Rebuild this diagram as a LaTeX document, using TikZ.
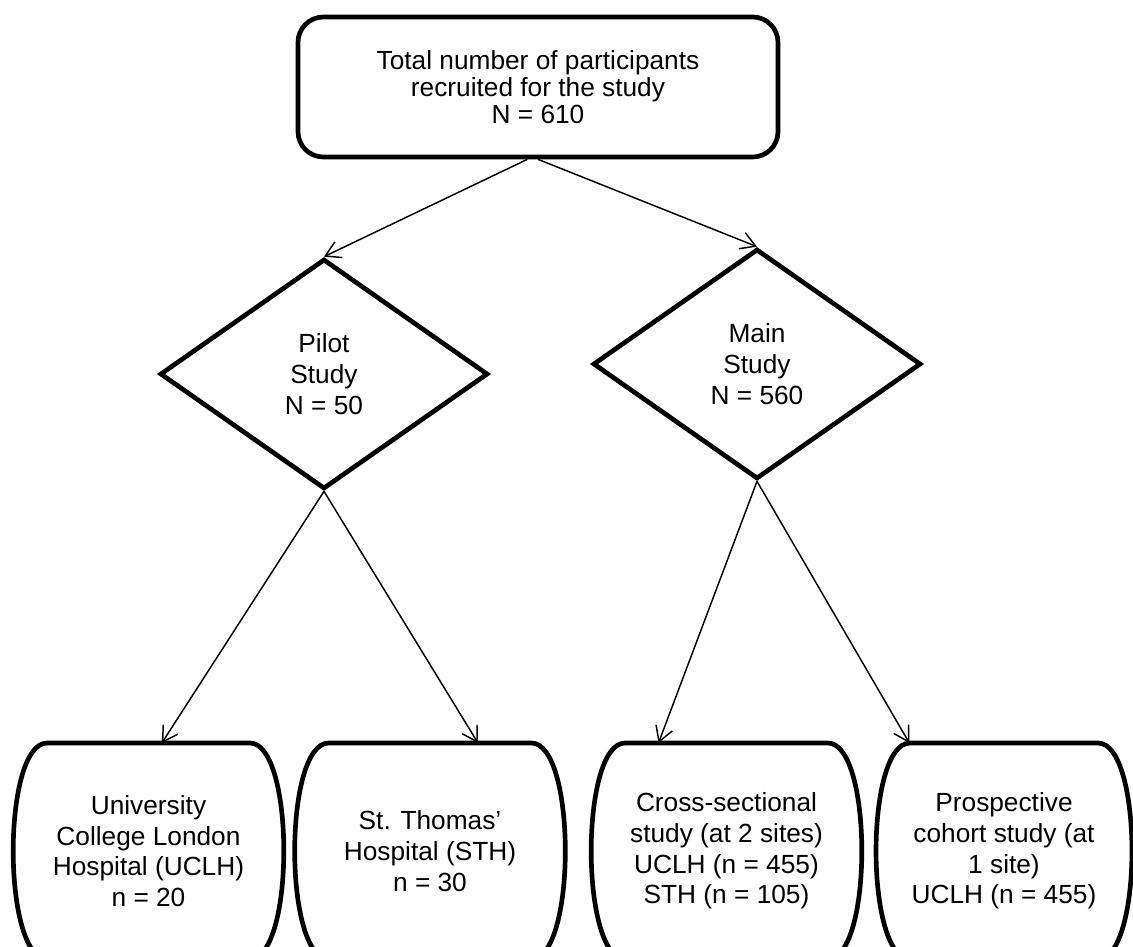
\documentclass[tikz,border=0pt]{standalone}
\usepackage{fontspec}
\setmainfont{Liberation Sans}
\usetikzlibrary{shapes.geometric,arrows.meta,calc}

\begin{document}
\begin{tikzpicture}[x=0.75pt,y=0.75pt,yscale=-1,xscale=1,
  every node/.style={font=\fontsize{19.7}{23}\selectfont, align=center, inner sep=0.75pt},
  totalbox/.style={draw, line width=3.5pt, rounded corners=19pt, minimum width=360pt, minimum height=105pt},
  studybox/.style={diamond, draw, line width=3.5pt, minimum width=246pt, minimum height=172.5pt},
  sitebox/.style={minimum width=200pt, minimum height=159pt, outer sep=1.5pt},
  link/.style={line width=1.1pt, -{Straight Barb[length=11pt,width=13pt]}}
]
\useasboundingbox (0,0) rectangle (1133,947);
% top box
\node [totalbox, font=\fontsize{19.7}{20}\selectfont] (total) at (538,87) {Total number of participants\\recruited for the study\\N = 610};
% the two studies
\node [studybox] (pilot) at (324,374) {Pilot\\Study\\N = 50};
\node [studybox] (main) at (757,364) {Main\\Study\\N = 560};
% sites
\node [sitebox] (uclh) at (148.5,851) {University\\College London\\Hospital (UCLH)\\n = 20};
\node [sitebox] (sth) at (430,851) {St. Thomas'\\Hospital (STH)\\n = 30};
\node [sitebox] (cross) at (726.5,851) {Cross-sectional\\study (at 2 sites)\\UCLH (n = 455)\\STH (n = 105)};
\node [sitebox, minimum width=189pt] (cohort) at (1004,851) {Prospective\\cohort study (at\\1 site)\\UCLH (n = 455)};
\foreach \n in {uclh,sth,cross,cohort}
  \draw [line width=3.5pt] ($(\n.north west)+(34,0)$) -- ($(\n.north east)+(-34,0)$)
    .. controls ($(\n.north east)+(11.3,0)$) and ($(\n.south east)+(11.3,0)$) .. ($(\n.south east)+(-34,0)$)
    -- ($(\n.south west)+(34,0)$)
    .. controls ($(\n.south west)+(-11.3,0)$) and ($(\n.north west)+(-11.3,0)$) .. cycle;
% connectors
\draw [link] ([xshift=-8pt]total.south) -- (pilot.north);
\draw [link] (total.south) -- (main.north);
\draw [link] (pilot.south) -- ([xshift=10pt]uclh.north);
\draw [link] (pilot.south) -- ([xshift=36pt]sth.north);
\draw [link] (main.south) -- ([xshift=-51pt]cross.north);
\draw [link] (main.south) -- ([xshift=-71pt]cohort.north);
\end{tikzpicture}
\end{document}
